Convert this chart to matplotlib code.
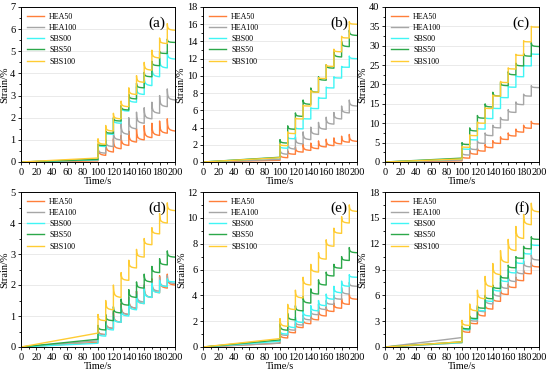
import matplotlib
matplotlib.use("Agg")
import matplotlib.pyplot as plt
from matplotlib.ticker import MultipleLocator

plt.rcParams['font.family'] = ['Liberation Serif', 'DejaVu Serif']

SERIES = ["HEA50", "HEA100", "SBS00", "SBS50", "SBS100"]
COLORS = ["#ff7f3a", "#a6a6a6", "#40f5f5", "#2ca84a", "#ffcc33"]
CYCLE_T = [100, 110, 120, 130, 140, 150, 160, 170, 180, 190]

# strain at t=100 s (end of the slow ramp), peak after each load step, value at end of each step
A_START = [0.05, 0.10, 0.10, 0.12, 0.18]
A_PEAK = {
    "HEA50": [0.75, 0.95, 1.05, 1.2, 1.4, 1.5, 1.65, 1.75, 1.85, 1.95],
    "HEA100": [0.65, 1.0, 1.4, 1.75, 2.0, 2.25, 2.45, 2.7, 3.0, 3.3],
    "SBS00": [0.8, 1.35, 1.95, 2.5, 2.95, 3.4, 3.9, 4.35, 4.7, 5.0],
    "SBS50": [0.8, 1.4, 2.0, 2.55, 3.05, 3.55, 4.05, 4.55, 5.0, 5.55],
    "SBS100": [1.05, 1.65, 2.2, 2.75, 3.35, 3.9, 4.5, 5.05, 5.6, 6.25],
}
A_END = {
    "HEA50": [0.3, 0.45, 0.6, 0.75, 0.9, 1.0, 1.1, 1.2, 1.3, 1.4],
    "HEA100": [0.4, 0.7, 1.0, 1.25, 1.5, 1.75, 1.95, 2.2, 2.5, 2.8],
    "SBS00": [0.7, 1.25, 1.75, 2.3, 2.7, 3.05, 3.45, 3.85, 4.25, 4.65],
    "SBS50": [0.75, 1.3, 1.85, 2.35, 2.85, 3.35, 3.85, 4.35, 4.9, 5.4],
    "SBS100": [0.8, 1.4, 1.95, 2.5, 3.05, 3.6, 4.15, 4.7, 5.35, 5.95],
}

B_START = [0.2, 0.3, 0.5, 0.55, 0.5]
B_PEAK = {
    "HEA50": [1.0, 1.3, 1.75, 2.05, 2.2, 2.45, 2.65, 2.8, 3.0, 3.2],
    "HEA100": [1.6, 2.35, 2.9, 3.5, 4.05, 4.6, 5.2, 5.75, 6.5, 7.2],
    "SBS00": [1.9, 2.9, 4.0, 5.1, 6.3, 7.5, 8.7, 9.9, 11.1, 12.3],
    "SBS50": [2.6, 4.2, 5.7, 7.2, 8.6, 9.9, 11.3, 12.8, 14.0, 15.3],
    "SBS100": [2.1, 3.5, 5.1, 6.6, 8.3, 9.8, 11.3, 13.1, 14.6, 16.3],
}
B_END = {
    "HEA50": [0.5, 0.9, 1.15, 1.35, 1.55, 1.75, 1.9, 2.1, 2.3, 2.4],
    "HEA100": [0.9, 1.5, 2.1, 2.6, 3.2, 3.8, 4.4, 5.0, 5.7, 6.5],
    "SBS00": [1.6, 2.7, 3.85, 5.0, 6.2, 7.4, 8.6, 9.75, 11.0, 12.0],
    "SBS50": [2.2, 3.8, 5.3, 6.7, 8.1, 9.5, 10.9, 12.2, 13.4, 14.7],
    "SBS100": [1.9, 3.3, 5.0, 6.5, 8.1, 9.7, 11.1, 12.8, 14.4, 16.0],
}

C_START = [0.3, 0.5, 0.8, 1.0, 0.8]
C_PEAK = {
    "HEA50": [1.5, 3.0, 3.5, 4.5, 5.5, 6.5, 7.5, 8.5, 9.5, 10.5],
    "HEA100": [2.5, 4.0, 5.5, 7.5, 9.5, 11.5, 13.5, 15.5, 17.5, 19.7],
    "SBS00": [3.5, 6.0, 8.8, 11.5, 14.0, 16.8, 19.5, 22.3, 25.0, 28.0],
    "SBS50": [5.0, 8.8, 12.0, 15.0, 18.0, 20.5, 23.3, 25.5, 28.0, 30.8],
    "SBS100": [4.0, 7.0, 10.3, 14.0, 17.3, 20.8, 24.3, 27.8, 31.3, 35.0],
}
C_END = {
    "HEA50": [1.0, 2.0, 2.8, 3.7, 4.8, 5.8, 6.7, 7.7, 8.7, 9.8],
    "HEA100": [1.8, 3.2, 4.8, 6.8, 8.8, 10.8, 12.8, 14.8, 17.0, 19.2],
    "SBS00": [3.3, 5.7, 8.5, 11.2, 13.8, 16.6, 19.3, 22.0, 24.8, 27.8],
    "SBS50": [4.5, 8.0, 11.3, 14.2, 17.0, 19.7, 22.5, 24.8, 27.3, 29.8],
    "SBS100": [3.8, 6.8, 10.0, 13.8, 17.0, 20.5, 24.0, 27.5, 31.0, 34.8],
}

D_START = [0.15, 0.2, 0.12, 0.25, 0.45]
D_PEAK = {
    "HEA50": [0.6, 0.9, 1.15, 1.4, 1.6, 1.8, 2.0, 2.2, 2.3, 2.35],
    "HEA100": [0.55, 0.85, 1.1, 1.35, 1.6, 1.8, 2.0, 2.15, 2.25, 2.3],
    "SBS00": [0.5, 0.75, 1.0, 1.25, 1.5, 1.7, 1.9, 2.05, 2.15, 2.2],
    "SBS50": [0.7, 1.05, 1.3, 1.55, 1.85, 2.1, 2.35, 2.6, 2.85, 3.1],
    "SBS100": [1.05, 1.5, 2.0, 2.4, 2.8, 3.15, 3.5, 3.85, 4.3, 4.65],
}
D_END = {
    "HEA50": [0.4, 0.6, 0.8, 1.05, 1.25, 1.4, 1.6, 1.75, 1.9, 2.0],
    "HEA100": [0.4, 0.6, 0.8, 1.05, 1.25, 1.45, 1.6, 1.8, 1.95, 2.05],
    "SBS00": [0.35, 0.55, 0.8, 1.0, 1.2, 1.4, 1.6, 1.75, 1.95, 2.1],
    "SBS50": [0.55, 0.85, 1.1, 1.35, 1.6, 1.9, 2.1, 2.4, 2.65, 2.9],
    "SBS100": [0.85, 1.2, 1.6, 2.15, 2.55, 2.9, 3.3, 3.65, 4.0, 4.4],
}

E_START = [0.3, 0.3, 0.45, 0.55, 0.65]
E_PEAK = {
    "HEA50": [1.1, 1.4, 1.8, 2.2, 2.5, 2.9, 3.1, 3.4, 3.75, 4.1],
    "HEA100": [1.2, 1.6, 2.0, 2.5, 2.8, 3.3, 3.6, 4.0, 4.6, 5.0],
    "SBS00": [1.3, 1.9, 2.3, 2.8, 3.2, 3.6, 4.1, 4.7, 5.1, 5.6],
    "SBS50": [1.8, 2.6, 3.2, 3.9, 4.5, 5.2, 5.8, 6.4, 7.0, 7.7],
    "SBS100": [2.2, 3.3, 4.4, 5.4, 6.4, 7.3, 8.3, 9.2, 10.1, 11.0],
}
E_END = {
    "HEA50": [0.7, 1.1, 1.5, 1.8, 2.1, 2.4, 2.75, 3.0, 3.3, 3.7],
    "HEA100": [0.9, 1.3, 1.7, 2.1, 2.5, 2.9, 3.3, 3.7, 4.1, 4.7],
    "SBS00": [1.0, 1.5, 1.9, 2.4, 2.8, 3.2, 3.7, 4.2, 4.7, 5.4],
    "SBS50": [1.3, 2.1, 2.8, 3.4, 4.1, 4.8, 5.5, 6.1, 6.7, 7.3],
    "SBS100": [1.6, 2.9, 3.8, 4.8, 5.8, 6.8, 7.8, 8.8, 9.6, 10.5],
}

F_START = [0.5, 1.1, 0.5, 0.6, 0.6]
F_PEAK = {
    "HEA50": [2.2, 3.0, 4.3, 5.0, 5.8, 6.6, 7.3, 8.1, 8.9, 9.8],
    "HEA100": [2.3, 3.3, 4.6, 5.8, 6.7, 7.5, 8.3, 9.2, 10.0, 10.7],
    "SBS00": [2.2, 3.5, 4.5, 5.6, 7.0, 8.0, 9.0, 10.0, 11.0, 12.0],
    "SBS50": [2.4, 3.6, 4.8, 6.0, 7.2, 8.3, 9.5, 10.5, 11.7, 12.8],
    "SBS100": [3.1, 5.0, 6.6, 8.2, 9.7, 11.2, 12.5, 14.0, 15.4, 16.7],
}
F_END = {
    "HEA50": [1.7, 2.7, 3.6, 4.4, 5.3, 6.1, 6.9, 7.7, 8.5, 9.3],
    "HEA100": [2.0, 3.0, 4.1, 5.0, 5.9, 6.8, 7.6, 8.5, 9.3, 10.1],
    "SBS00": [2.0, 3.2, 4.2, 5.3, 6.5, 7.6, 8.6, 9.7, 10.8, 11.8],
    "SBS50": [2.1, 3.3, 4.5, 5.6, 6.8, 8.0, 9.2, 10.3, 11.4, 12.5],
    "SBS100": [2.5, 4.2, 5.6, 7.0, 8.4, 9.8, 11.2, 12.6, 14.2, 15.7],
}

# decay profile drawn inside each 10 s step (line style, not data)
DT = [0, 0.4, 1, 2, 4, 7, 10]
FRAC = [1, 0.55, 0.36, 0.2, 0.09, 0.03, 0]

PANELS = [
    ("(a)", A_START, A_PEAK, A_END, 7, 1),
    ("(b)", B_START, B_PEAK, B_END, 18, 2),
    ("(c)", C_START, C_PEAK, C_END, 40, 5),
    ("(d)", D_START, D_PEAK, D_END, 5, 1),
    ("(e)", E_START, E_PEAK, E_END, 12, 2),
    ("(f)", F_START, F_PEAK, F_END, 18, 3),
]

W, H = 550, 374
LEFTS = [21, 203, 385]
TOPS = [7, 192]
AX_W, AX_H = 154, 155


def curve(start, peaks, ends):
    xs, ys = [0, 100], [0, start]
    for t, p, e in zip(CYCLE_T, peaks, ends):
        for dt, f in zip(DT, FRAC):
            xs.append(t + dt)
            ys.append(e + (p - e) * f)
    return xs, ys


fig = plt.figure(figsize=(W / 100, H / 100), dpi=100)

for i, (tag, start, peaks, ends, ymax, ystep) in enumerate(PANELS):
    row, col = divmod(i, 3)
    ax = fig.add_axes([LEFTS[col] / W, 1 - (TOPS[row] + AX_H) / H,
                       AX_W / W, AX_H / H])
    for k, name in enumerate(SERIES):
        xs, ys = curve(start[k], peaks[name], ends[name])
        ax.plot(xs, ys, color=COLORS[k], lw=1.0, label=name)
    ax.set_xlim(0, 200)
    ax.set_ylim(0, ymax)
    ax.xaxis.set_major_locator(MultipleLocator(20))
    ax.xaxis.set_minor_locator(MultipleLocator(10))
    ax.yaxis.set_major_locator(MultipleLocator(ystep))
    ax.yaxis.set_minor_locator(MultipleLocator(ystep / 2))
    ax.grid(axis='y', color='#e6e6e6', lw=0.6)
    ax.set_axisbelow(True)
    ax.tick_params(which='both', direction='out', labelsize=7.5, pad=1.5,
                   width=0.6)
    ax.tick_params(which='major', length=2.5)
    ax.tick_params(which='minor', length=1.5)
    for s in ax.spines.values():
        s.set_linewidth(0.7)
    ax.set_xlabel("Time/s", fontsize=7.5, labelpad=0.5)
    ax.set_ylabel("Strain/%", fontsize=7.5, labelpad=1)
    ax.text(0.94, 0.94, tag, transform=ax.transAxes, ha='right', va='top',
            fontsize=11)
    leg = ax.legend(loc='upper left', frameon=False, fontsize=5.8,
                    handlelength=2.2, handletextpad=0.6, labelspacing=0.4,
                    borderaxespad=0.3)
    for line in leg.get_lines():
        line.set_linewidth(1.0)

fig.savefig("out.png", dpi=100)
